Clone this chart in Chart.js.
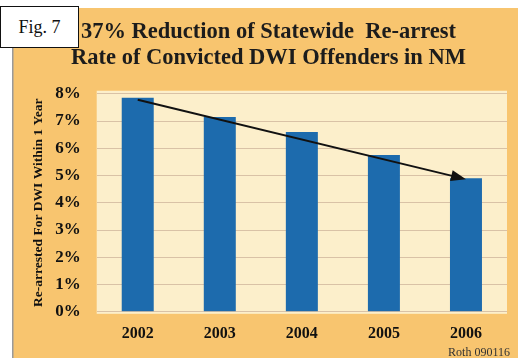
<!DOCTYPE html>
<html>
<head>
<meta charset="utf-8">
<script src="https://cdn.jsdelivr.net/npm/chart.js@4/dist/chart.umd.min.js"></script>
<style>
    html, body { margin: 0; padding: 0; background: #fff; }
    #wrap { position: relative; width: 518px; height: 362px; }
    #figBox {
        position: absolute; left: 0; top: 6px; width: 77px; height: 40px;
        border: 1.5px solid #111; background: #fff;
        font-family: 'Liberation Serif', 'Times New Roman', serif;
        font-size: 18px; line-height: 40px; text-align: center; color: #111;
    }
</style>
</head>
<body>
<div id="wrap">
    <canvas id="dwiChart" width="518" height="362"></canvas>
    <div id="figBox">Fig. 7</div>
</div>
<script>
const years = ['2002', '2003', '2004', '2005', '2006'];
const rearrestRates = [7.85, 7.15, 6.6, 5.75, 4.9];   // percent
const yTicks = [0, 1, 2, 3, 4, 5, 6, 7, 8];

const serif = "'Liberation Serif', 'Times New Roman', serif";

// orange panel, cream plot area, trend arrow and the "Roth" note
const backdrop = {
    id: 'backdrop',
    beforeDraw(chart) {
        const ctx = chart.ctx, a = chart.chartArea;
        ctx.save();
        ctx.fillStyle = '#fff';
        ctx.fillRect(0, 0, chart.width, chart.height);
        ctx.fillStyle = '#F8C56F';
        ctx.fillRect(12, 8, chart.width - 12, 350);
        ctx.fillStyle = '#9a9a9a';
        ctx.fillRect(12, 8, 1.5, 350);
        ctx.fillStyle = '#FCEFCB';
        ctx.fillRect(a.left, a.top - 3, a.right - a.left, a.bottom - a.top + 5);
        ctx.restore();
    },
    afterDatasetsDraw(chart) {
        const ctx = chart.ctx;
        const x = chart.scales.x, y = chart.scales.y;
        const last = rearrestRates.length - 1;
        const x0 = x.getPixelForValue(0), y0 = y.getPixelForValue(rearrestRates[0]) + 2;
        const x1 = x.getPixelForValue(last), y1 = y.getPixelForValue(rearrestRates[last]) + 1;
        const ang = Math.atan2(y1 - y0, x1 - x0);
        ctx.save();
        ctx.strokeStyle = '#111';
        ctx.fillStyle = '#111';
        ctx.lineWidth = 2;
        ctx.beginPath();
        ctx.moveTo(x0, y0);
        ctx.lineTo(x1 - 10 * Math.cos(ang), y1 - 10 * Math.sin(ang));
        ctx.stroke();
        ctx.beginPath();
        ctx.moveTo(x1, y1);
        ctx.lineTo(x1 - 15 * Math.cos(ang) + 5.5 * Math.sin(ang), y1 - 15 * Math.sin(ang) - 5.5 * Math.cos(ang));
        ctx.lineTo(x1 - 15 * Math.cos(ang) - 5.5 * Math.sin(ang), y1 - 15 * Math.sin(ang) + 5.5 * Math.cos(ang));
        ctx.closePath();
        ctx.fill();
        // small source note, bottom right
        ctx.fillStyle = '#333';
        ctx.font = '12px ' + serif;
        ctx.textAlign = 'right';
        ctx.textBaseline = 'middle';
        ctx.fillText('Roth 090116', 510, 353);
        ctx.restore();
    }
};

new Chart(document.getElementById('dwiChart').getContext('2d'), {
    type: 'bar',
    data: {
        labels: years,
        datasets: [{
            label: 'Re-arrest rate',
            data: rearrestRates,
            backgroundColor: '#1D6BAD',
            barPercentage: 0.39,
            categoryPercentage: 1
        }]
    },
    options: {
        responsive: false,
        animation: false,
        layout: { padding: { left: 30, right: 11, top: 8, bottom: 7 } },
        plugins: {
            legend: { display: false },
            tooltip: { enabled: false },
            title: {
                display: true,
                text: ['37% Reduction of Statewide  Re-arrest', 'Rate of Convicted DWI Offenders in NM'],
                color: '#1c1c1c',
                font: { family: serif, size: 22.5, weight: 'bold', lineHeight: 1.15 },
                padding: { top: 11, bottom: 23 }
            }
        },
        scales: {
            x: {
                grid: { display: false, drawTicks: false },
                border: { display: false },
                ticks: {
                    color: '#111',
                    font: { family: serif, size: 16, weight: 'bold' },
                    padding: 12
                }
            },
            y: {
                min: 0,
                max: 8,
                afterBuildTicks(axis) { axis.ticks = yTicks.map(v => ({ value: v })); },
                grid: { color: '#D9C2A6', drawTicks: false },
                border: { display: false },
                ticks: {
                    color: '#111',
                    font: { family: serif, size: 17, weight: 'bold' },
                    padding: 16,
                    callback: v => v + '%'
                },
                title: {
                    display: true,
                    text: 'Re-arrested For DWI Within 1 Year',
                    color: '#111',
                    font: { family: serif, size: 13.5, weight: 'bold' },
                    padding: { top: 0, bottom: -7 }
                }
            }
        }
    },
    plugins: [backdrop]
});
</script>
</body>
</html>
